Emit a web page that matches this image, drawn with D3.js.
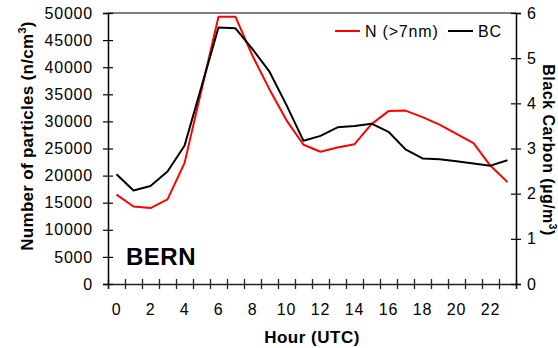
<!DOCTYPE html>
<html>
<head>
<meta charset="utf-8">
<script src="https://cdn.jsdelivr.net/npm/d3@7"></script>
<style>
  html, body { margin: 0; padding: 0; background: #fff; }
  svg { display: block; }
  text { font-family: "Liberation Sans", Arial, sans-serif; fill: #000; }
</style>
</head>
<body>
<svg id="chart" width="558" height="348"></svg>
<script>
// ---- data ----
const hours = d3.range(0, 24);
const hourLabels = ["0","2","4","6","8","10","12","14","16","18","20","22"];
const nValues = [16500,14300,14000,15600,22300,35800,49300,49300,42100,35900,30200,25700,
                 24400,25200,25800,29500,31900,32000,30800,29400,27700,26000,21800,18800];
const bcValues = [2.43,2.07,2.17,2.49,3.06,4.37,5.68,5.66,5.20,4.70,3.96,3.17,
                  3.28,3.47,3.50,3.55,3.37,2.98,2.78,2.76,2.72,2.67,2.62,2.74];
const leftTicks = [0,5000,10000,15000,20000,25000,30000,35000,40000,45000,50000];
const rightTicks = [0,1,2,3,4,5,6];
const seriesNames = ["N (>7nm)", "BC"];
const siteName = "BERN";

// ---- layout ----
const L = 108, R = 516, T = 13, B = 284;
const svg = d3.select("#chart");

const x = d3.scaleBand().domain(hours).range([L, R]).padding(0);
const xEdge = d3.scaleLinear().domain([0, 24]).range([L, R]);
const yN = d3.scaleLinear().domain([0, 50000]).range([B, T]);
const yBC = d3.scaleLinear().domain([0, 6]).range([B, T]);
const cx = h => x(h) + x.bandwidth() / 2;

// top border
svg.append("line").attr("x1", L).attr("x2", R).attr("y1", T).attr("y2", T)
  .attr("stroke", "#000").attr("stroke-width", 1.2);

// bottom axis: tick marks at category boundaries
const gxTicks = svg.append("g").attr("transform", `translate(0,${B})`)
  .call(d3.axisBottom(xEdge).tickValues(d3.range(0, 25)).tickSize(5).tickFormat(""));
gxTicks.selectAll(".tick line").attr("y1", -5).attr("stroke", "#222").attr("stroke-width", 1.3);
gxTicks.select(".domain").attr("stroke", "#222").attr("stroke-width", 1.5);

// bottom axis labels
const gxLab = svg.append("g").attr("transform", `translate(0,${B})`)
  .call(d3.axisBottom(x).tickValues(hours.filter(h => hourLabels.includes(String(h))))
    .tickSize(0).tickPadding(20).tickFormat(d => String(d)));
gxLab.select(".domain").remove();
gxLab.selectAll("text").attr("font-size", 16).style("letter-spacing", "0.8px")
  .attr("font-family", "Liberation Sans, Arial, sans-serif");

// left axis
const gy = svg.append("g").attr("transform", `translate(${L},0)`)
  .call(d3.axisLeft(yN).tickValues(leftTicks).tickSize(5).tickPadding(10).tickFormat(d3.format("d")));
gy.selectAll(".tick line").attr("x1", 5).attr("stroke", "#000").attr("stroke-width", 1.2);
gy.select(".domain").attr("stroke", "#000").attr("stroke-width", 1.5);
gy.selectAll("text").attr("font-size", 16).style("letter-spacing", "0.8px")
  .attr("font-family", "Liberation Sans, Arial, sans-serif");

// right axis
const gr = svg.append("g").attr("transform", `translate(${R},0)`)
  .call(d3.axisRight(yBC).tickValues(rightTicks).tickSize(5).tickPadding(6).tickFormat(d3.format("d")));
gr.selectAll(".tick line").attr("x1", -5).attr("stroke", "#000").attr("stroke-width", 1.2);
gr.select(".domain").attr("stroke", "#000").attr("stroke-width", 1.5);
gr.selectAll("text").attr("font-size", 16).style("letter-spacing", "0.8px")
  .attr("font-family", "Liberation Sans, Arial, sans-serif");

// lines
const lineN = d3.line().x((d, i) => cx(hours[i])).y(d => yN(d));
const lineBC = d3.line().x((d, i) => cx(hours[i])).y(d => yBC(d));
svg.append("path").datum(nValues).attr("d", lineN)
  .attr("fill", "none").attr("stroke", "#ff0000").attr("stroke-width", 2).attr("stroke-linejoin", "round");
svg.append("path").datum(bcValues).attr("d", lineBC)
  .attr("fill", "none").attr("stroke", "#000").attr("stroke-width", 2).attr("stroke-linejoin", "round");

// legend
const legend = [
  { name: seriesNames[0], color: "#ff0000", x: 335 },
  { name: seriesNames[1], color: "#000", x: 448 }
];
legend.forEach(l => {
  svg.append("line").attr("x1", l.x).attr("x2", l.x + 25).attr("y1", 31).attr("y2", 31)
    .attr("stroke", l.color).attr("stroke-width", 2);
  svg.append("text").attr("x", l.x + 30).attr("y", 37).attr("font-size", 16)
    .style("letter-spacing", "0.8px").text(l.name);
});

// BERN label
svg.append("text").attr("x", 126).attr("y", 265).attr("font-size", 24)
  .attr("font-weight", "bold").style("letter-spacing", "0.5px").text(siteName);

// axis titles
const lt = svg.append("text").attr("transform", "translate(33,136) rotate(-90)")
  .attr("text-anchor", "middle").attr("font-size", 17).attr("font-weight", "bold")
  .style("letter-spacing", "0.3px");
lt.append("tspan").text("Number of particles (n/cm");
lt.append("tspan").attr("font-size", 11).attr("dy", -7).text("3");
lt.append("tspan").attr("dy", 7).text(")");

const rt = svg.append("text").attr("transform", "translate(543,150) rotate(90)")
  .attr("text-anchor", "middle").attr("font-size", 16).attr("font-weight", "bold")
  .style("letter-spacing", "0.5px");
rt.append("tspan").text("Black Carbon (µg/m");
rt.append("tspan").attr("font-size", 10).attr("dy", -6).text("3");
rt.append("tspan").attr("dy", 6).text(")");

svg.append("text").attr("x", 312).attr("y", 343).attr("text-anchor", "middle")
  .attr("font-size", 17).attr("font-weight", "bold").style("letter-spacing", "0.5px")
  .text("Hour (UTC)");
</script>
</body>
</html>
